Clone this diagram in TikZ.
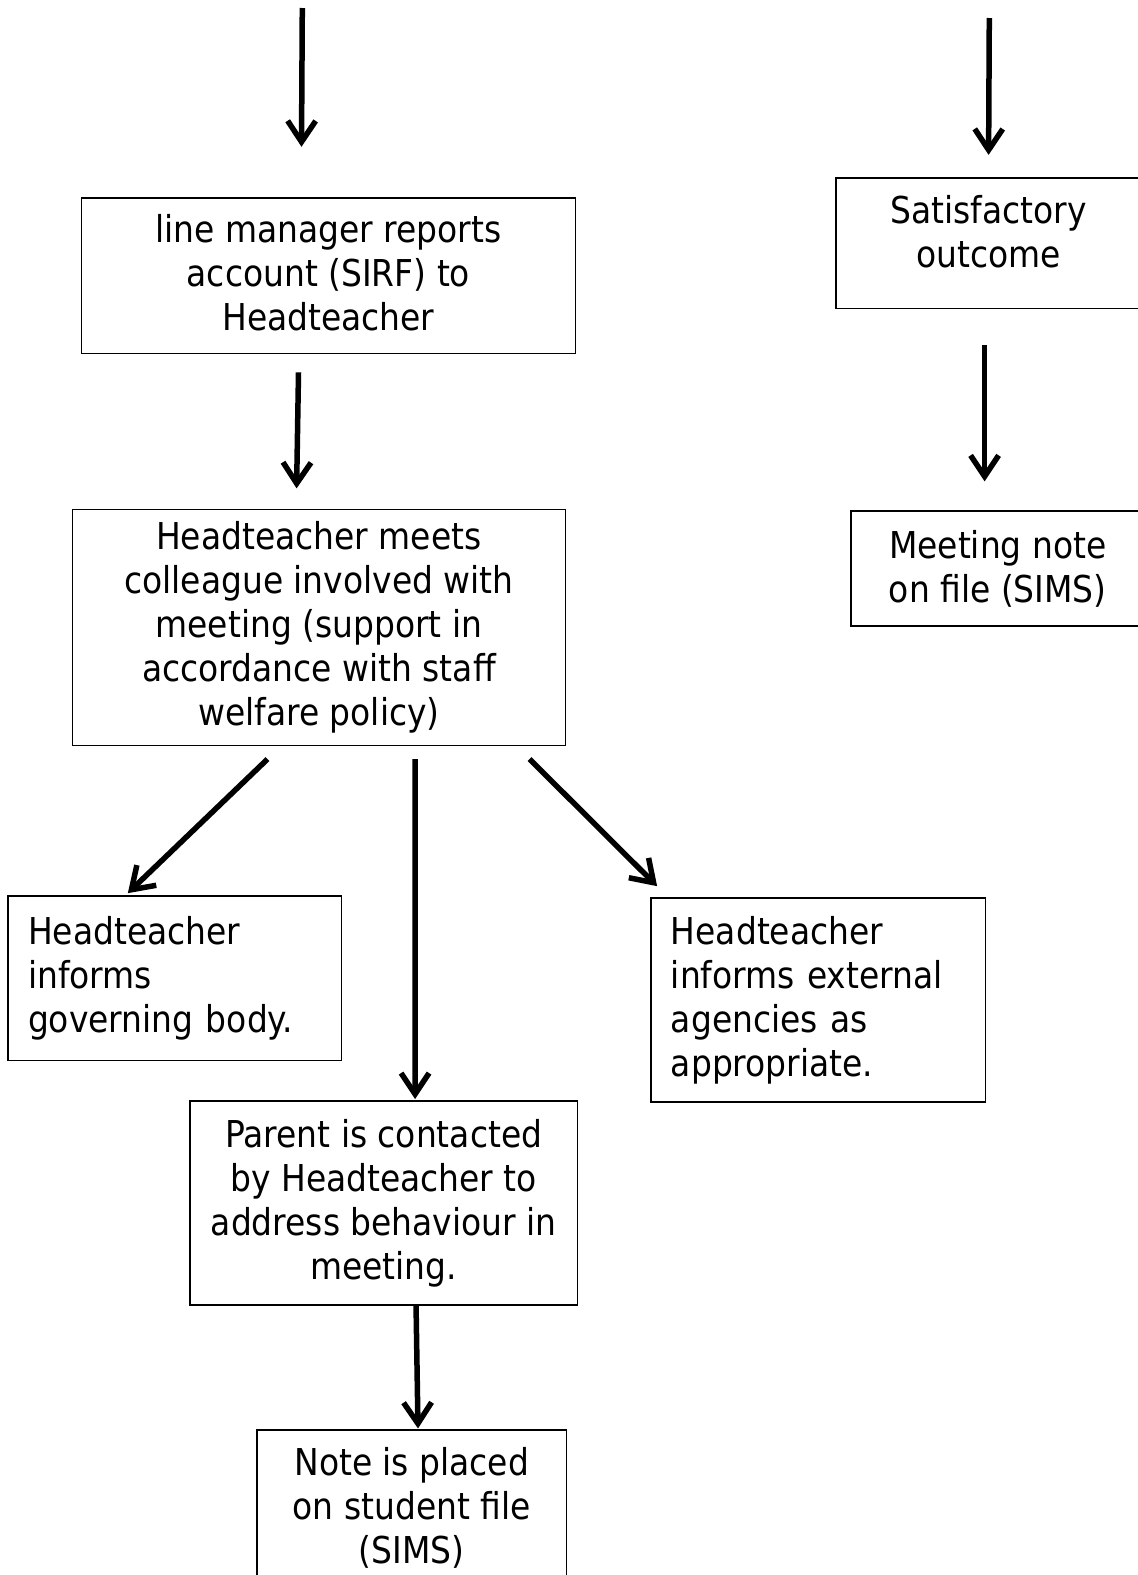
\documentclass[tikz,border=0pt]{standalone}
\usepackage{fontspec}
\setmainfont{DejaVu Sans}[FakeStretch=0.89]
\usetikzlibrary{arrows.meta,calc}
\begin{document}
\begin{tikzpicture}[x=1pt,y=-1pt,
  box/.style={draw,line width=1.6pt,inner sep=0pt,font=\fontsize{37pt}{44pt}\selectfont},
  cbox/.style={box,align=center},
  lbox/.style={box,align=left,inner xsep=20pt},
  arr/.style={line width=5.5pt,-{Straight Barb[length=21pt,width=28pt]}}]
\useasboundingbox (0,0) rectangle (1138,1575);

\node[cbox,minimum width=494pt,minimum height=155.6pt,text depth=6pt] (report) at (328.4,275.7) {line manager reports\\account (SIRF) to\\Headteacher};
\node[cbox,minimum width=493pt,minimum height=236pt] (meets) at (318.9,627.3) {Headteacher meets\\colleague involved with\\meeting (support in\\accordance with staff\\welfare policy)};
\node[cbox,minimum width=306pt,minimum height=130.6pt,text depth=24pt] (sat) at (988.8,243.1) {Satisfactory\\outcome};
\node[cbox,minimum width=294pt,minimum height=114.5pt] (note1) at (997.8,568.5) {Meeting note\\on file (SIMS)};
\node[lbox,text width=293.5pt,minimum height=164.7pt] (gov) at (174.8,978.3) {Headteacher\\informs\\governing body.};
\node[lbox,text width=294.4pt,minimum height=203.9pt] (ext) at (818.1,999.9) {Headteacher\\informs external\\agencies as\\appropriate.};
\node[cbox,minimum width=387.7pt,minimum height=203.9pt] (parent) at (383.7,1202.8) {Parent is contacted\\by Headteacher to\\address behaviour in\\meeting.};
\node[cbox,minimum width=309.4pt,minimum height=154.7pt] (note2) at (411.8,1507.6) {Note is placed\\on student file\\(SIMS)};

\coordinate (s1) at (302.3,8);
\coordinate (t1) at ($(report.north west)+(220.9,-50.3)$);
\coordinate (s2) at (989.3,18);
\coordinate (t2) at ($(sat.north west)+(153.6,-22.1)$);

\draw[arr] (s1) -- (t1);
\draw[arr] (s2) -- (t2);
\draw[arr] ($(report.south west)+(217.9,18.1)$) -- ($(meets.north west)+(225,-20.1)$);
\draw[arr] ($(sat.south west)+(149.6,36.1)$) -- ($(note1.north west)+(134.6,-29.1)$);
\draw[arr] ($(meets.south west)+(195.9,13)$) -- ($(gov.north west)+(120.6,-2)$);
\draw[arr] ($(meets.south west)+(343.5,13)$) -- ($(parent.north west)+(226,-1)$);
\draw[arr] ($(meets.south west)+(458,13)$) -- ($(ext.north west)+(7,-11)$);
\draw[arr] ($(parent.south west)+(227,0)$) -- ($(note2.north west)+(161.7,-1)$);
\end{tikzpicture}
\end{document}
